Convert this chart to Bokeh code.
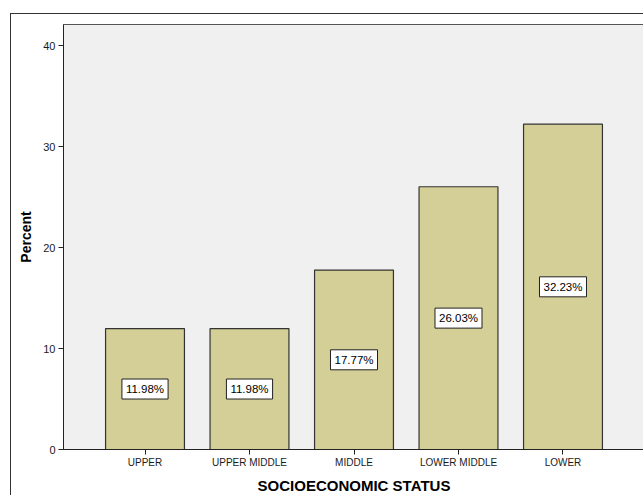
from bokeh.plotting import figure
from bokeh.models import FactorRange, Range1d, ColumnDataSource, FixedTicker
from bokeh.core.properties import value
from bokeh.embed import file_html
from bokeh.resources import INLINE

categories = ["UPPER", "UPPER MIDDLE", "MIDDLE", "LOWER MIDDLE", "LOWER"]
percents = [11.98, 11.98, 17.77, 26.03, 32.23]
y_ticks = [0, 10, 20, 30, 40]

labels = ["%.2f%%" % v for v in percents]
half = [v / 2 for v in percents]
src = ColumnDataSource(dict(cat=categories, pct=percents, half=half, lab=labels))

FONT = "Liberation Sans"

p = figure(width=633, height=482, output_backend="svg", toolbar_location=None,
           x_range=FactorRange(factors=categories, range_padding=0.112),
           y_range=Range1d(0, 42.1),
           min_border_left=52, min_border_right=0, min_border_top=10, min_border_bottom=40,
           margin=(13, 0, 0, 10),
           styles={"border-left": "1px solid #333333", "border-top": "1px solid #333333"})
p.background_fill_color = "#F0F0F0"
p.border_fill_color = "white"
p.outline_line_color = "#555555"
p.xgrid.visible = False
p.ygrid.visible = False

p.vbar(x="cat", top="pct", width=0.755, source=src,
       fill_color="#D3CF97", line_color="#333333", line_width=1.2)

p.text(x="cat", y="half", text="lab", source=src,
       text_align="center", text_baseline="middle",
       text_font=value(FONT), text_font_size="11.5px", text_color="black",
       background_fill_color="white", border_line_color="#222222", border_line_width=1,
       padding=4)

p.yaxis.ticker = FixedTicker(ticks=y_ticks)
p.yaxis.minor_tick_line_color = None
for ax in (p.xaxis[0], p.yaxis[0]):
    ax.axis_line_color = "#222222"
    ax.major_tick_line_color = "#222222"
    ax.major_tick_out = 5
    ax.major_tick_in = 0
    ax.major_label_text_font = FONT
    ax.major_label_text_font_size = "10px"
    ax.major_label_text_color = "#1a1a1a"
    ax.axis_label_text_font = FONT
    ax.axis_label_text_font_style = "bold"
    ax.axis_label_text_color = "black"

p.yaxis.major_label_text_font_size = "11px"
p.xaxis.axis_label = "SOCIOECONOMIC STATUS"
p.xaxis.axis_label_text_font_size = "15px"
p.xaxis.major_label_standoff = 2
p.xaxis.axis_label_standoff = 6
p.yaxis.axis_label = "Percent"
p.yaxis.axis_label_text_font_size = "14px"
p.yaxis.major_label_standoff = 3
p.yaxis.axis_label_standoff = 6

open("out.html", "w").write(file_html(p, INLINE))
